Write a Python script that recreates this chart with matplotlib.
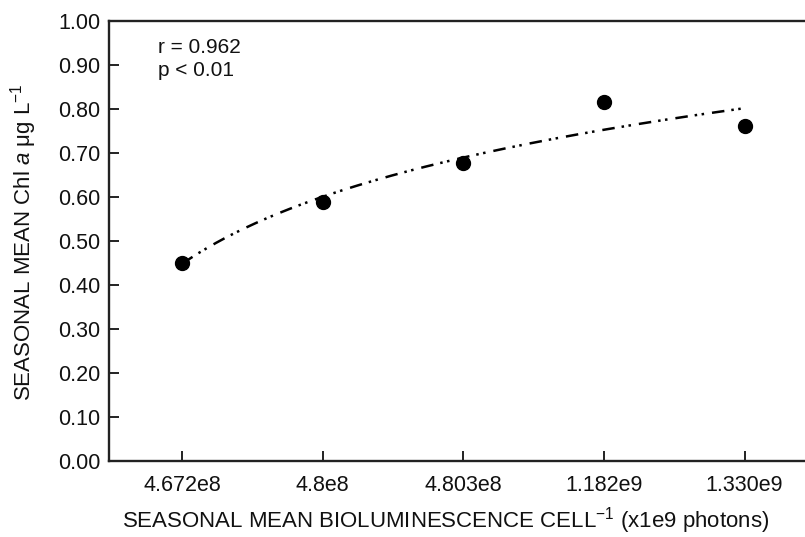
import numpy as np
import matplotlib
matplotlib.use("Agg")
import matplotlib.pyplot as plt

plt.rcParams['font.family'] = ['Liberation Sans', 'DejaVu Sans']
plt.rcParams['mathtext.fontset'] = 'custom'
plt.rcParams['mathtext.rm'] = 'Liberation Sans'
plt.rcParams['mathtext.it'] = 'Liberation Sans:italic'

categories = ["4.672e8", "4.8e8", "4.803e8", "1.182e9", "1.330e9"]
chl = [0.45, 0.589, 0.677, 0.816, 0.761]
yticks = [0.0, 0.1, 0.2, 0.3, 0.4, 0.5, 0.6, 0.7, 0.8, 0.9, 1.0]
stats_text = "r = 0.962\np < 0.01"

W, H = 805, 537
fig = plt.figure(figsize=(W / 100, H / 100), dpi=100)
ax = fig.add_axes([109 / W, 1 - 461 / H, 1 - 109 / W, (461 - 21) / H])

x = np.arange(len(categories))
# logarithmic fit of the data
lx = np.log(x + 1)
b, a = np.polyfit(lx, chl, 1)
xf = np.linspace(x[0], x[-1], 200)
yf = a + b * np.log(xf + 1)
ax.plot(xf, yf, color='black', lw=1.8, ls=(0, (5.0, 2.8, 1.0, 1.8, 1.0, 3.2)))
ax.plot(x, chl, 'o', color='black', markersize=10, zorder=3)

ax.set_xlim(-0.52, 4.43)
ax.set_ylim(0, 1.0)
ax.set_xticks(x)
ax.set_xticklabels(categories)
ax.set_yticks(yticks)
ax.set_yticklabels([f"{v:.2f}" for v in yticks])

for s in ['left', 'top', 'bottom']:
    ax.spines[s].set_linewidth(1.7)
    ax.spines[s].set_color('#222222')
ax.spines['right'].set_visible(False)

ax.tick_params(axis='both', direction='in', length=7, width=1.4, color='#222222',
               labelsize=15.5, labelcolor='#111111', pad=6)
ax.tick_params(axis='x', pad=10)

fig.text(446 / W, 1 - 527 / H,
         r"SEASONAL MEAN BIOLUMINESCENCE CELL$^{-1}$ (x1e9 photons)",
         fontsize=16, ha='center', va='baseline', color='#111111')
fig.text(24 / W, 1 - 242 / H, r"SEASONAL MEAN Chl $\it{a}$ μg L$^{-1}$",
         fontsize=16, rotation=90, ha='center', va='center', color='#111111')

ax.text(158 / W, 1 - 38 / H, stats_text, transform=fig.transFigure, fontsize=15,
        va='top', ha='left', linespacing=1.25, color='#111111')

fig.savefig("out.png", dpi=100)
